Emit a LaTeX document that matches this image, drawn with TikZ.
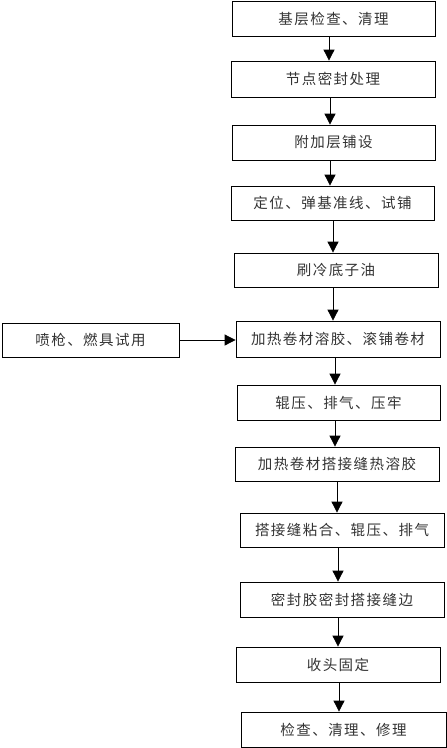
\documentclass[tikz,border=0pt]{standalone}
\usepackage{fontspec}
\setmainfont[LetterSpace=10]{Noto Sans CJK SC}
\usetikzlibrary{arrows.meta}
\begin{document}
\begin{tikzpicture}[x=1pt,y=-1pt,
  box/.style={draw,line width=0.8pt,inner sep=0pt,minimum height=35pt,font=\fontsize{14.5}{17}\selectfont,text=black!80},
  arr/.style={line width=0.8pt,-{Triangle[width=11pt,length=11pt]}}]
\useasboundingbox (0,0) rectangle (447,748);
\node[box,minimum width=203pt] (b1) at (333.5,18.5) {基层检查、清理};
\node[box,minimum width=204pt,minimum height=36pt] (b2) at (333,79) {节点密封处理};
\node[box,minimum width=203pt] (b3) at (333.5,142.5) {附加层铺设};
\node[box,minimum width=203pt,minimum height=34pt] (b4) at (332.5,203) {定位、弹基准线、试铺};
\node[box,minimum width=204pt,minimum height=34pt] (b5) at (336,270) {刷冷底子油};
\node[box,minimum width=204pt,minimum height=36pt] (b6) at (338,339) {加热卷材溶胶、滚铺卷材};
\node[box,minimum width=177pt,minimum height=34pt] (l) at (90.5,340) {喷枪、燃具试用};
\node[box,minimum width=203pt] (b7) at (338.5,402.5) {辊压、排气、压牢};
\node[box,minimum width=204pt,minimum height=34pt] (b8) at (337,464) {加热卷材搭接缝热溶胶};
\node[box,minimum width=204pt,minimum height=34pt] (b9) at (342,530) {搭接缝粘合、辊压、排气};
\node[box,minimum width=204pt] (b10) at (342,599.5) {密封胶密封搭接缝边};
\node[box,minimum width=204pt] (b11) at (338,664.5) {收头固定};
\node[box,minimum width=205pt] (b12) at (343.5,729.5) {检查、清理、修理};
\draw[arr] ([xshift=-4.5pt]b1.south) -- ([xshift=-4.5pt]b1.south |- b2.north);
\draw[arr] ([xshift=-3pt]b2.south) -- ([xshift=-3pt]b2.south |- b3.north);
\draw[arr] ([xshift=-3.5pt]b3.south) -- ([xshift=-3.5pt]b3.south |- b4.north);
\draw[arr] ([xshift=0.5pt]b4.south) -- ([xshift=0.5pt]b4.south |- b5.north);
\draw[arr] ([xshift=-3pt]b5.south) -- ([xshift=-3pt]b5.south |- b6.north);
\draw[arr] ([xshift=-3pt]b6.south) -- ([xshift=-3pt]b6.south |- b7.north);
\draw[arr] ([xshift=-3.5pt]b7.south) -- ([xshift=-3.5pt]b7.south |- b8.north);
\draw[arr] (b8.south) -- (b8.south |- b9.north);
\draw[arr] ([xshift=-4pt]b9.south) -- ([xshift=-4pt]b9.south |- b10.north);
\draw[arr] ([xshift=-4pt]b10.south) -- ([xshift=-4pt]b10.south |- b11.north);
\draw[arr] ([xshift=1pt]b11.south) -- ([xshift=1pt]b11.south |- b12.north);
\draw[arr] (l.east) -- (l.east -| b6.west);
\end{tikzpicture}
\end{document}
